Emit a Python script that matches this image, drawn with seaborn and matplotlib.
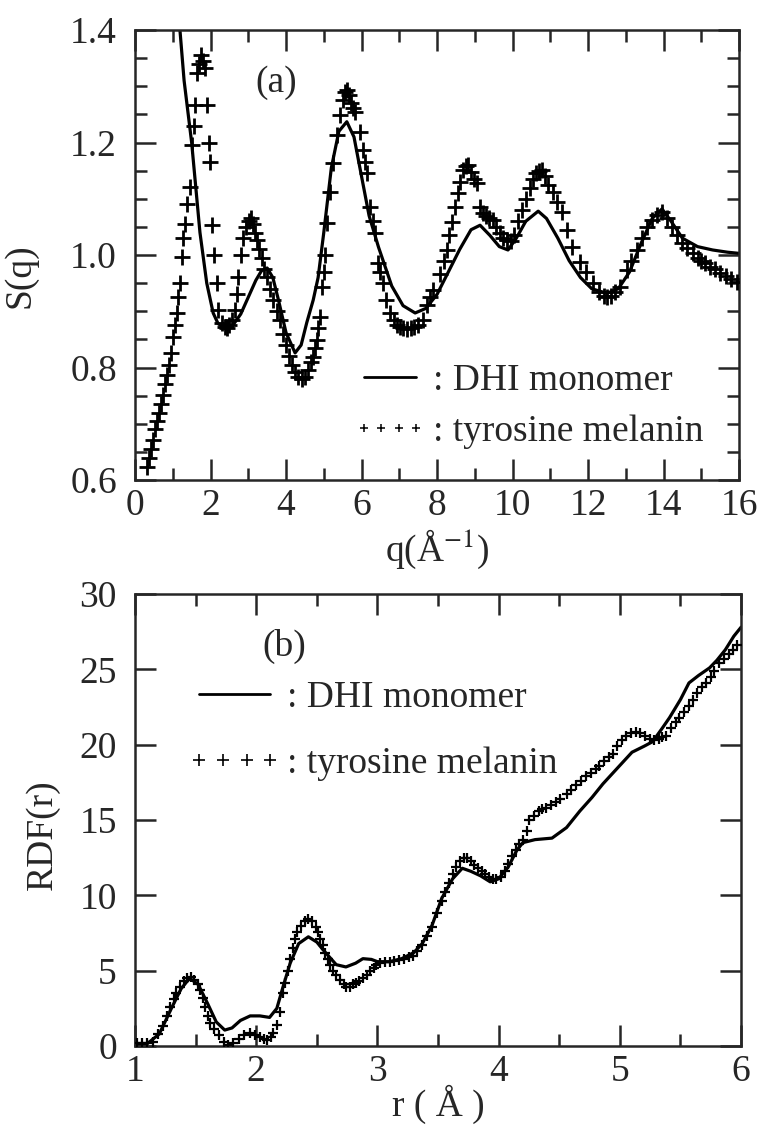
import numpy as np
import pandas as pd
import matplotlib
matplotlib.use("Agg")
import matplotlib.pyplot as plt
from matplotlib.lines import Line2D
from matplotlib.ticker import MultipleLocator, FormatStrFormatter
import seaborn as sns

# ---- (a) structure factor S(q) ----
q_dhi = [1.10, 1.19, 1.30, 1.50, 1.72, 1.90, 2.07, 2.20, 2.38, 2.60, 2.80, 3.00,
         3.20, 3.35, 3.50, 3.65, 3.80, 4.00, 4.24, 4.40, 4.55, 4.72, 4.85, 5.00,
         5.20, 5.40, 5.61, 5.80, 6.00, 6.20, 6.45, 6.80, 7.10, 7.42, 7.70, 8.00,
         8.30, 8.60, 8.90, 9.14, 9.40, 9.65, 9.88, 10.10, 10.35, 10.68, 10.90,
         11.20, 11.50, 11.80, 12.10, 12.50, 12.80, 13.10, 13.40, 13.70, 13.96,
         14.20, 14.50, 14.90, 15.30, 15.70, 16.00]
s_dhi = [1.480, 1.400, 1.310, 1.200, 1.040, 0.950, 0.897, 0.878, 0.870, 0.876, 0.895, 0.925,
         0.955, 0.972, 0.977, 0.960, 0.920, 0.862, 0.826, 0.840, 0.880, 0.920, 0.960, 1.040,
         1.155, 1.220, 1.237, 1.210, 1.140, 1.070, 1.014, 0.945, 0.910, 0.897, 0.905, 0.930,
         0.970, 1.010, 1.045, 1.053, 1.035, 1.015, 1.009, 1.030, 1.060, 1.078, 1.065,
         1.030, 0.990, 0.960, 0.940, 0.932, 0.940, 0.970, 1.020, 1.065, 1.082,
         1.060, 1.030, 1.015, 1.009, 1.005, 1.003]

q_tyr = [0.31, 0.36, 0.42, 0.48, 0.53, 0.59, 0.64, 0.69, 0.74, 0.79, 0.84, 0.89, 0.95,
         1.00, 1.06, 1.11, 1.15, 1.19, 1.24, 1.28, 1.32, 1.39, 1.46, 1.51, 1.55, 1.59,
         1.64, 1.70, 1.75, 1.80, 1.85, 1.90, 1.95, 1.99, 2.03, 2.10, 2.16, 2.20, 2.30,
         2.38, 2.43, 2.50, 2.58, 2.65, 2.70, 2.73, 2.80, 2.87, 2.95, 3.02, 3.08, 3.12,
         3.17, 3.22, 3.29, 3.36, 3.42, 3.49, 3.57, 3.66, 3.75, 3.84, 3.92, 4.00, 4.08,
         4.17, 4.25, 4.33, 4.42, 4.50, 4.58, 4.66, 4.72, 4.78, 4.82, 4.86, 4.90, 4.95,
         5.00, 5.03, 5.09, 5.17, 5.25, 5.35, 5.43, 5.50, 5.56, 5.61, 5.66, 5.72, 5.78,
         5.83, 5.96, 6.04, 6.10, 6.15, 6.23, 6.30, 6.36, 6.44, 6.50, 6.57, 6.66, 6.75,
         6.85, 6.94, 7.02, 7.10, 7.20, 7.30, 7.40, 7.50, 7.63, 7.73, 7.82, 7.90, 8.08,
         8.18, 8.26, 8.33, 8.40, 8.48, 8.56, 8.62, 8.69, 8.76, 8.82, 8.90, 8.98, 9.06,
         9.14, 9.22, 9.30, 9.38, 9.48, 9.56, 9.66, 9.76, 9.85, 9.95, 10.05, 10.15,
         10.25, 10.35, 10.45, 10.55, 10.63, 10.70, 10.78, 10.86, 10.95, 11.07, 11.18,
         11.30, 11.44, 11.58, 11.79, 11.95, 12.13, 12.30, 12.42, 12.50, 12.60, 12.72,
         12.85, 13.03, 13.15, 13.30, 13.43, 13.56, 13.70, 13.83, 13.96, 14.10, 14.22,
         14.35, 14.49, 14.62, 14.78, 14.90, 15.00, 15.10, 15.23, 15.35, 15.50, 15.65,
         15.80, 15.95]
s_tyr = [0.624, 0.640, 0.655, 0.672, 0.690, 0.705, 0.720, 0.735, 0.752, 0.770, 0.787, 0.805, 0.825,
         0.855, 0.876, 0.897, 0.925, 0.950, 0.997, 1.030, 1.056, 1.090, 1.121, 1.196, 1.230, 1.267,
         1.323, 1.340, 1.356, 1.345, 1.332, 1.267, 1.200, 1.166, 1.053, 1.000, 0.950, 0.902, 0.880,
         0.872, 0.870, 0.875, 0.885, 0.902, 0.930, 0.961, 1.000, 1.030, 1.050, 1.060, 1.065, 1.055,
         1.040, 1.027, 1.010, 0.994, 0.975, 0.961, 0.940, 0.920, 0.900, 0.884, 0.860, 0.840, 0.820,
         0.805, 0.792, 0.784, 0.780, 0.784, 0.795, 0.810, 0.819, 0.835, 0.849, 0.870, 0.890, 0.943,
         0.970, 1.000, 1.057, 1.112, 1.163, 1.213, 1.249, 1.275, 1.290, 1.293, 1.285, 1.270, 1.262,
         1.254, 1.219, 1.187, 1.165, 1.146, 1.086, 1.060, 1.039, 0.986, 0.970, 0.950, 0.920, 0.897,
         0.885, 0.876, 0.872, 0.870, 0.869, 0.870, 0.872, 0.876, 0.885, 0.911, 0.925, 0.938, 0.967,
         0.990, 1.009, 1.035, 1.059, 1.085, 1.110, 1.130, 1.151, 1.158, 1.160, 1.148, 1.135, 1.128,
         1.086, 1.075, 1.070, 1.065, 1.062, 1.050, 1.040, 1.030, 1.027, 1.025, 1.035, 1.060,
         1.080, 1.100, 1.120, 1.135, 1.145, 1.150, 1.151, 1.140, 1.125, 1.112, 1.095,
         1.077, 1.044, 1.014, 0.988, 0.970, 0.950, 0.935, 0.928, 0.925, 0.928, 0.935,
         0.943, 0.973, 0.990, 1.009, 1.030, 1.050, 1.062, 1.071, 1.077, 1.065, 1.050,
         1.035, 1.021, 1.012, 1.003, 0.995, 0.990, 0.985, 0.979, 0.975, 0.968, 0.963,
         0.958, 0.952]

# ---- (b) radial distribution function RDF(r) ----
r_dhi = [1.00, 1.10, 1.20, 1.30, 1.38, 1.45, 1.52, 1.60, 1.67, 1.74, 1.80, 1.87, 1.95,
         2.03, 2.11, 2.17, 2.22, 2.28, 2.35, 2.43, 2.50, 2.55, 2.66, 2.74, 2.82, 2.88,
         2.95, 3.00, 3.10, 3.20, 3.30, 3.37, 3.45, 3.53, 3.62, 3.70, 3.77, 3.85, 3.93,
         4.00, 4.08, 4.15, 4.20, 4.30, 4.44, 4.56, 4.67, 4.77, 4.86, 4.94, 5.02, 5.10,
         5.20, 5.27, 5.35, 5.41, 5.50, 5.57, 5.65, 5.74, 5.80, 5.87, 5.94, 6.00]
g_dhi = [0.1, 0.15, 0.8, 2.5, 3.8, 4.5, 4.1, 2.8, 1.6, 1.06, 1.2, 1.7, 2.0,
         2.0, 1.9, 2.5, 3.9, 5.5, 6.8, 7.25, 6.9, 6.4, 5.4, 5.25, 5.5, 5.8,
         5.75, 5.6, 5.6, 5.8, 6.2, 6.8, 8.0, 9.8, 11.1, 11.8, 11.6, 11.3, 10.9,
         11.1, 11.9, 13.0, 13.5, 13.7, 13.8, 14.5, 15.6, 16.5, 17.4, 18.1, 18.8, 19.5,
         19.9, 20.2, 21.1, 21.8, 23.0, 24.1, 24.6, 25.1, 25.6, 26.3, 27.2, 27.8]

r_tyr = [1.02, 1.06, 1.10, 1.15, 1.19, 1.23, 1.26, 1.29, 1.32, 1.34, 1.37, 1.40, 1.43,
         1.46, 1.49, 1.52, 1.54, 1.56, 1.58, 1.60, 1.62, 1.65, 1.69, 1.73, 1.77, 1.81,
         1.86, 1.90, 1.95, 1.99, 2.03, 2.06, 2.09, 2.12, 2.14, 2.17, 2.20, 2.22, 2.24,
         2.26, 2.28, 2.30, 2.32, 2.34, 2.37, 2.40, 2.43, 2.46, 2.49, 2.51, 2.53, 2.55,
         2.57, 2.59, 2.61, 2.63, 2.66, 2.69, 2.72, 2.74, 2.77, 2.80, 2.82, 2.85, 2.88,
         2.91, 2.94, 2.97, 2.99, 3.02, 3.06, 3.10, 3.14, 3.18, 3.22, 3.26, 3.29, 3.33,
         3.37, 3.41, 3.45, 3.49, 3.53, 3.56, 3.59, 3.62, 3.65, 3.68, 3.71, 3.74, 3.77,
         3.80, 3.83, 3.86, 3.89, 3.92, 3.95, 3.98, 4.02, 4.05, 4.08, 4.11, 4.14, 4.17,
         4.20, 4.23, 4.25, 4.29, 4.33, 4.36, 4.39, 4.43, 4.47, 4.51, 4.56, 4.60, 4.64,
         4.68, 4.72, 4.76, 4.80, 4.83, 4.87, 4.91, 4.94, 4.98, 5.02, 5.05, 5.09, 5.13,
         5.17, 5.21, 5.25, 5.28, 5.32, 5.35, 5.38, 5.42, 5.46, 5.49, 5.53, 5.57, 5.60,
         5.64, 5.68, 5.71, 5.75, 5.78, 5.82, 5.86, 5.90, 5.93, 5.97]
g_tyr = [0.2, 0.2, 0.2, 0.3, 0.8, 1.3, 2.0, 2.6, 3.1, 3.5, 3.9, 4.3, 4.5,
         4.6, 4.4, 4.1, 3.7, 3.2, 2.6, 2.0, 1.5, 1.1, 0.7, 0.3, 0.05, 0.2,
         0.5, 0.7, 0.85, 0.75, 0.6, 0.5, 0.4, 0.6, 0.85, 1.4, 2.25, 3.5, 4.2,
         5.0, 5.8, 6.5, 7.1, 7.6, 8.0, 8.3, 8.4, 8.3, 7.9, 7.6, 7.1, 6.7,
         6.2, 5.8, 5.4, 5.0, 4.7, 4.4, 4.1, 3.9, 3.95, 4.1, 4.2, 4.35, 4.5,
         4.7, 4.95, 5.2, 5.4, 5.5, 5.55, 5.6, 5.65, 5.7, 5.8, 5.9, 6.0, 6.3,
         6.7, 7.3, 7.9, 8.8, 9.6, 10.2, 10.8, 11.4, 11.9, 12.3, 12.5, 12.5, 12.3,
         12.0, 11.8, 11.6, 11.4, 11.2, 11.1, 11.1, 11.2, 11.6, 12.1, 12.6, 13.0, 13.4,
         13.7, 14.3, 15.0, 15.3, 15.6, 15.7, 15.8, 16.0, 16.2, 16.4, 16.7, 17.0, 17.3,
         17.6, 17.9, 18.1, 18.4, 18.6, 18.9, 19.2, 19.4, 19.9, 20.3, 20.6, 20.8, 20.85,
         20.8, 20.6, 20.4, 20.3, 20.4, 20.5, 20.6, 21.1, 21.5, 21.8, 22.2, 22.6, 23.0,
         23.4, 23.8, 24.1, 24.5, 24.9, 25.4, 25.7, 26.0, 26.3, 26.6]

labels_legend = [": DHI monomer", ": tyrosine melanin"]

sns.set_style("ticks")
plt.rcParams["font.family"] = ["Liberation Serif", "DejaVu Serif"]
plt.rcParams["mathtext.fontset"] = "stix"
plt.rcParams["axes.linewidth"] = 1.8

FS = 27
fig = plt.figure(figsize=(7.59, 11.30), dpi=100)
ax1 = fig.add_axes([0.1779, 0.5752, 0.7958, 0.3982])
ax2 = fig.add_axes([0.1779, 0.0743, 0.7985, 0.4000])

df_a_line = pd.DataFrame({"q": q_dhi, "S": s_dhi})
df_a_pts = pd.DataFrame({"q": q_tyr, "S": s_tyr})
df_b_line = pd.DataFrame({"r": r_dhi, "g": g_dhi})
df_b_pts = pd.DataFrame({"r": r_tyr, "g": g_tyr})

sns.lineplot(data=df_a_line, x="q", y="S", ax=ax1, color="black", lw=2.3,
             sort=False, estimator=None)
sns.scatterplot(data=df_a_pts, x="q", y="S", ax=ax1, marker="+", color="black",
                s=120, linewidth=2.0, zorder=3)

sns.lineplot(data=df_b_line, x="r", y="g", ax=ax2, color="black", lw=2.3,
             sort=False, estimator=None)
sns.scatterplot(data=df_b_pts, x="r", y="g", ax=ax2, marker="+", color="black",
                s=60, linewidth=1.6, zorder=3)


def style_axis(ax, xlim, ylim, xmaj, xmin, ymaj, ymin):
    ax.set_xlim(*xlim)
    ax.set_ylim(*ylim)
    ax.xaxis.set_major_locator(MultipleLocator(xmaj))
    ax.xaxis.set_minor_locator(MultipleLocator(xmin))
    ax.yaxis.set_major_locator(MultipleLocator(ymaj))
    if ymin:
        ax.yaxis.set_minor_locator(MultipleLocator(ymin))
    ax.tick_params(which="both", direction="in", top=True, right=True,
                   labelsize=FS, width=1.8)
    ax.tick_params(which="major", length=15)
    ax.tick_params(which="minor", length=8.5)
    ax.tick_params(axis="y", pad=13)
    ax.tick_params(axis="x", pad=6)
    for sp in ax.spines.values():
        sp.set_visible(True)
        sp.set_linewidth(1.8)


style_axis(ax1, (0, 16), (0.6, 1.4), 2, 1, 0.2, 0.05)
style_axis(ax2, (1, 6), (0, 30), 1, 0.5, 5, None)
ax1.yaxis.set_major_formatter(FormatStrFormatter("%.1f"))

ax1.set_xlabel(r"q(Å$^{-1}$)", fontsize=FS)
ax1.set_ylabel("S(q)", fontsize=FS)
ax1.xaxis.set_label_coords(0.5, -0.105)
ax1.yaxis.set_label_coords(-0.162, 0.455)

ax2.set_xlabel("r ( Å )", fontsize=FS)
ax2.set_ylabel("RDF(r)", fontsize=FS)
ax2.xaxis.set_label_coords(0.5, -0.085)
ax2.yaxis.set_label_coords(-0.124, 0.467)

ax1.text(0.233, 0.882, "(a)", transform=ax1.transAxes, fontsize=FS,
         ha="center", va="center")
ax2.text(0.247, 0.883, "(b)", transform=ax2.transAxes, fontsize=FS,
         ha="center", va="center")


def add_legend(ax, anchor, hlen, spacing, ms, mew):
    handles = [Line2D([], [], color="black", lw=2.0),
               Line2D([], [], ls="", marker="+", color="black", ms=ms, mew=mew)]
    leg = ax.legend(handles, labels_legend, loc="upper left", bbox_to_anchor=anchor,
                    frameon=False, fontsize=FS, numpoints=4, handlelength=hlen,
                    handletextpad=0.15, labelspacing=spacing, borderpad=0,
                    borderaxespad=0)
    return leg


add_legend(ax1, (0.36, 0.258), 2.0, 0.42, 6, 1.1)
add_legend(ax2, (0.087, 0.808), 2.5, 0.84, 8, 1.2)

fig.savefig("out.png", dpi=100)
